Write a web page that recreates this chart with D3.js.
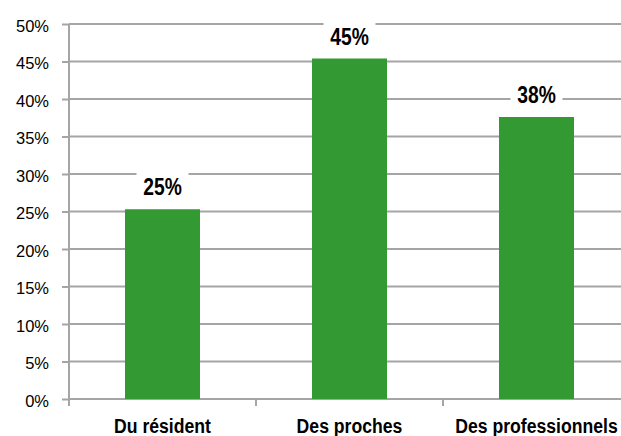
<!DOCTYPE html>
<html>
<head>
<meta charset="utf-8">
<script src="https://cdn.jsdelivr.net/npm/d3@7"></script>
<style>
  body { margin: 0; background: #fff; }
  svg { display: block; font-family: "Liberation Sans", Arial, sans-serif; }
</style>
</head>
<body>
<svg id="chart" width="621" height="436"></svg>
<script>
var categories = ["Du résident", "Des proches", "Des professionnels"]
var values = [25.3, 45.4, 37.6]
var valueLabels = ["25%", "45%", "38%"]
var yTicks = [0, 5, 10, 15, 20, 25, 30, 35, 40, 45, 50]

var margin = {left: 69, top: 24}
var plotW = 561, plotH = 375
var gridColor = "#a5a5a5"
var barColor = "#339933"

var svg = d3.select("#chart")
var g = svg.append("g").attr("transform", "translate(" + margin.left + "," + margin.top + ")")

var xb = d3.scaleBand().domain(categories).range([0, plotW])
var y = d3.scaleLinear().domain([0, 50]).range([plotH, 0])
var cx = d => xb(d) + xb.bandwidth() / 2

// horizontal gridlines
g.selectAll(".grid")
    .data(yTicks)
    .enter()
    .append("line")
      .attr("x1", 0)
      .attr("x2", plotW)
      .attr("y1", d => y(d))
      .attr("y2", d => y(d))
      .attr("stroke", gridColor)
      .attr("stroke-width", 2)

// y axis
var yAxis = d3.axisLeft(y).tickValues(yTicks).tickSize(7).tickPadding(13).tickFormat(d => d + "%")
var ya = g.append("g").call(yAxis)
ya.select(".domain").remove()
ya.selectAll(".tick line").attr("stroke", gridColor).attr("stroke-width", 2)
ya.selectAll(".tick text").attr("font-size", 16.5).attr("fill", "#000").attr("dy", "0.45em")
    .attr("font-family", "Liberation Sans, Arial, sans-serif")

g.append("line")
    .attr("x1", 0).attr("x2", 0)
    .attr("y1", 0).attr("y2", plotH + 7)
    .attr("stroke", gridColor).attr("stroke-width", 2)

// x axis ticks between categories
g.selectAll(".xtick")
    .data(categories.slice(1))
    .enter()
    .append("line")
      .attr("x1", d => xb(d))
      .attr("x2", d => xb(d))
      .attr("y1", plotH)
      .attr("y2", plotH + 7)
      .attr("stroke", gridColor)
      .attr("stroke-width", 2)

g.selectAll(".xlabel")
    .data(categories)
    .enter()
    .append("g")
      .attr("transform", d => "translate(" + cx(d) + "," + (plotH + 34) + ") scale(0.84,1)")
    .append("text")
      .attr("text-anchor", "middle")
      .attr("font-size", 21)
      .attr("font-weight", "bold")
      .text(d => d)

// bars
g.selectAll(".bar")
    .data(values)
    .enter()
    .append("rect")
      .attr("x", (d, i) => cx(categories[i]) - 37.5)
      .attr("width", 75)
      .attr("y", d => y(d))
      .attr("height", d => plotH - y(d))
      .attr("fill", barColor)

// value labels with white boxes
var lab = g.selectAll(".vlab")
    .data(values)
    .enter()
    .append("g")
      .attr("transform", (d, i) => "translate(" + cx(categories[i]) + "," + (y(d) - 14) + ")")

lab.append("rect")
    .attr("x", -26)
    .attr("y", -24)
    .attr("width", 52)
    .attr("height", 30)
    .attr("fill", "#fff")

lab.append("text")
    .attr("text-anchor", "middle")
    .attr("transform", "scale(0.82,1)")
    .attr("font-size", 23.5)
    .attr("font-weight", "bold")
    .text((d, i) => valueLabels[i])
</script>
</body>
</html>
